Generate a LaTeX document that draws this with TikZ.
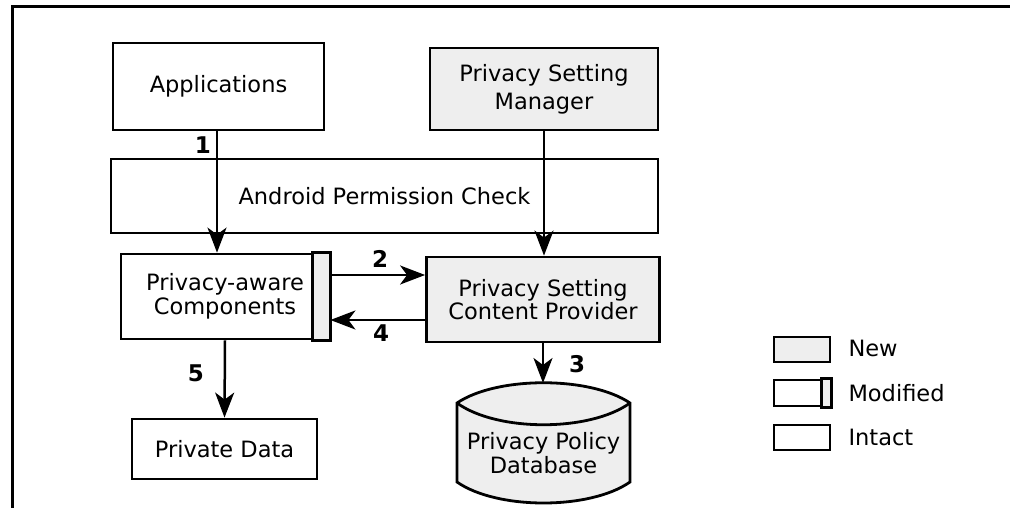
\documentclass[tikz,border=0pt]{standalone}
\usepackage{fontspec}
\setmainfont{DejaVu Sans}
\usetikzlibrary{arrows.meta}
\definecolor{newGray}{HTML}{EEEEEE}
\newcommand{\boxLine}{2.8pt}
\newcommand{\arrowLine}{2.5pt}
\newcommand{\stripeWidth}{18pt}
\tikzset{
  compBox/.style={draw, line width=\boxLine, align=center, inner sep=0pt},
  newBox/.style={compBox, fill=newGray},
  flowArrow/.style={line width=\arrowLine, -{Stealth[length=25pt,width=19pt,inset=7pt]}},
  stepLabel/.style={font=\fontsize{23}{24}\selectfont\bfseries},
  keyLabel/.style={anchor=west}
}
\begin{document}
\begin{tikzpicture}[x=1pt, y=-1pt, font=\fontsize{22.5}{23.5}\selectfont]
\useasboundingbox (0,0) rectangle (1010,508);
\draw[line width=3pt] (12,508) -- (12,7) -- (1010,7);

% components
\node[compBox, minimum width=211pt, minimum height=87pt] (apps) at (218.5,86.5) {Applications};
\node[newBox, minimum width=228pt, minimum height=82pt] (psm) at (544,89) {Privacy Setting\\[4.5pt]Manager};
\node[compBox, minimum width=547pt, minimum height=74pt] (permCheck) at (384.5,196) {Android Permission Check};
\node[compBox, minimum width=208pt, minimum height=85pt] (pac) at (225,296.5) {Privacy-aware\\Components};
\draw[line width=\boxLine, fill=newGray] ([xshift=-\stripeWidth]pac.north east) rectangle (pac.south east);
\node[newBox, minimum width=233pt, minimum height=85pt] (pscp) at (543,299.5) {Privacy Setting\\Content Provider};
\node[compBox, minimum width=185pt, minimum height=60pt] (privData) at (224.5,449) {Private Data};

% database
\draw[line width=\boxLine, fill=newGray] (457,403) .. controls +(40,-27) and +(-40,-27) .. (630,403)
  -- (630,482) .. controls +(-40,28) and +(40,28) .. (457,482) -- cycle;
\draw[line width=\boxLine] (457,403) .. controls +(40,29) and +(-40,29) .. (630,403);
\node[align=center] (db) at (543.5,453) {Privacy Policy\\Database};
\coordinate (dbTop) at (543.5,383);

% flows
\coordinate (toPscp) at ([yshift=21.5pt]pac.east);
\coordinate (toPac) at ([yshift=-23.5pt]pac.east);
\draw[flowArrow] ([xshift=-1.5pt]apps.south) -- ([xshift=-1.5pt]apps.south |- pac.north);
\draw[flowArrow] (psm.south) -- (psm.south |- pscp.north);
\draw[flowArrow] (toPscp) -- (toPscp -| pscp.west);
\draw[flowArrow] (toPac -| pscp.west) -- (toPac);
\draw[flowArrow] (pac.south) -- (privData.north);
\draw[flowArrow] (pscp.south) -- (pscp.south |- dbTop);
\node[stepLabel] (stepOne) at (203,145) {1};
\node[stepLabel] (stepTwo) at (380,259) {2};
\node[stepLabel] (stepThree) at (577,364) {3};
\node[stepLabel] (stepFour) at (381,333) {4};
\node[stepLabel] (stepFive) at (196,373) {5};

% legend
\node[newBox, minimum width=56pt, minimum height=25pt] (newKey) at (802,349.5) {};
\node[compBox, minimum width=56pt, minimum height=26pt] (modKey) at (802,393) {};
\draw[line width=\boxLine, fill=newGray] ([xshift=-10pt]modKey.north east) rectangle (modKey.south east);
\node[compBox, minimum width=56pt, minimum height=25pt] (intactKey) at (802,437.5) {};
\node[keyLabel] (newText) at (845,348) {New};
\node[keyLabel] (modText) at (845,393) {Modified};
\node[keyLabel] (intactText) at (845,437) {Intact};
\end{tikzpicture}
\end{document}
